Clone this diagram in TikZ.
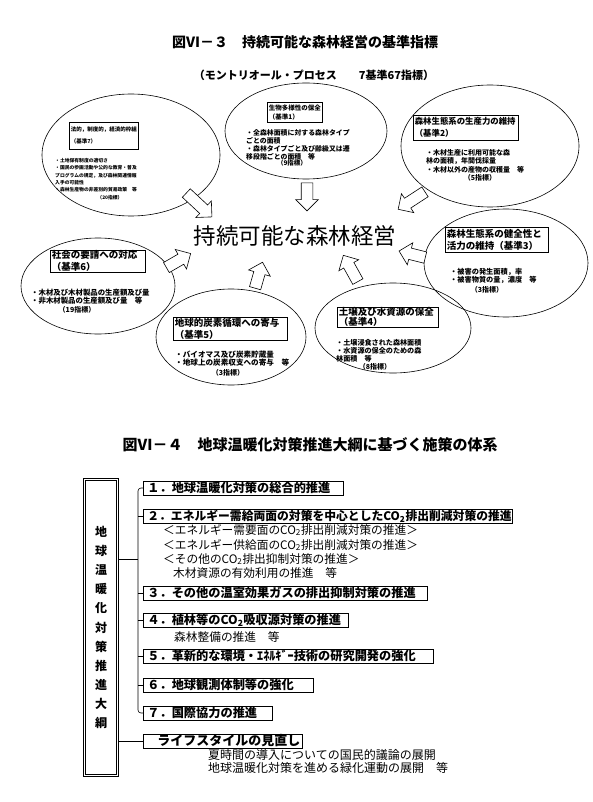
\documentclass[tikz,border=0pt]{standalone}
\usepackage{fontspec}
\setmainfont{Noto Sans CJK JP}
\usetikzlibrary{shapes.geometric,shapes.arrows}
\newcommand\jfs[2]{\fontsize{#1}{#2}\selectfont}

\tikzset{
  crit/.style={ellipse, draw, line width=0.6pt, inner sep=0pt},
  hdr/.style={draw, line width=0.6pt, anchor=north west, align=left, inner xsep=1.5pt, inner ysep=0pt},
  bul/.style={anchor=north west, align=left, inner sep=0pt},
  cnt/.style={inner sep=0pt},
  blockarrow/.style={single arrow, draw, fill=white, line width=0.6pt, inner sep=5.5pt, single arrow head extend=5.5pt, minimum height=#1},
  item/.style={draw, line width=0.7pt, anchor=west, align=left, inner xsep=4pt, inner ysep=0.5pt, minimum height=14pt, font=\bfseries\jfs{12.2}{12.2}},
  sub/.style={anchor=west, inner sep=0pt, font=\jfs{11.7}{11.7}},
}

\begin{document}
\begin{tikzpicture}[x=1pt,y=-1pt]
\useasboundingbox (0,0) rectangle (593,802);

% Titles
\node[font=\bfseries\jfs{14}{14}] (t3) at (305,42) {図Ⅵ－３　持続可能な森林経営の基準指標};
\node[font=\bfseries\jfs{11}{11}] (t3s) at (314,75) {（モントリオール・プロセス　　7基準67指標）};

% Criteria ellipses
\node[crit, minimum width=178pt, minimum height=122pt] (e7) at (131,155) {};
\node[crit, minimum width=162pt, minimum height=96pt] (e1) at (306,131) {};
\node[crit, minimum width=178pt, minimum height=122pt] (e2) at (490,146) {};
\node[crit, minimum width=154pt, minimum height=96pt] (e6) at (98,286) {};
\node[crit, minimum width=164pt, minimum height=108pt] (e3) at (506,263) {};
\node[crit, minimum width=150pt, minimum height=96pt] (e5) at (231,337) {};
\node[crit, minimum width=156pt, minimum height=90pt] (e4) at (393,328) {};

% Headers
\node[hdr, text width=66pt, minimum height=27pt, font=\bfseries\jfs{5.5}{12}] (h7) at (69,122) {法的，制度的，経済的枠組\\（基準7）};
\node[hdr, text width=52pt, minimum height=20pt, font=\bfseries\jfs{6.5}{9.5}] (h1) at (267,102) {生物多様性の保全\\（基準1）};
\node[hdr, text width=102pt, minimum height=25pt, font=\bfseries\jfs{8.4}{12}] (h2) at (413,115) {森林生態系の生産力の維持\\（基準2）};
\node[hdr, text width=92pt, minimum height=22pt, font=\bfseries\jfs{9.5}{12}] (h6) at (50,250) {社会の要請への対応\\（基準6）};
\node[hdr, text width=100pt, minimum height=25pt, font=\bfseries\jfs{9.5}{12}] (h3) at (445,227) {森林生態系の健全性と\\活力の維持（基準3）};
\node[hdr, text width=111pt, minimum height=23pt, font=\bfseries\jfs{9.5}{12}] (h5) at (173,317) {地球的炭素循環への寄与\\（基準5）};
\node[hdr, text width=98pt, minimum height=20pt, font=\bfseries\jfs{9.5}{10}] (h4) at (337,307) {土壌及び水資源の保全\\（基準4）};

% Indicators
\node[bul, font=\bfseries\jfs{4.8}{7.4}] (b7) at (55,158) {・土地保有制度の適切さ\\・国民の参画活動や公的な教育・普及\\プログラムの規定，及び森林関連情報\\入手の可能性\\・森林生産物の非差別的貿易政策　等};
\node[cnt, font=\bfseries\jfs{4.8}{4.8}] (c7) at (110,198) {（20指標）};
\node[bul, font=\bfseries\jfs{6.9}{8}] (b1) at (246,129) {・全森林面積に対する森林タイプ\\ごとの面積\\・森林タイプごと及び齢級又は遷\\移段階ごとの面積　等};
\node[cnt, font=\bfseries\jfs{6.5}{6.5}] (c1) at (292,163) {（9指標）};
\node[bul, font=\bfseries\jfs{7}{8.5}] (b2) at (426,149) {・木材生産に利用可能な森\\林の面積，年間伐採量\\・木材以外の産物の収穫量　等};
\node[cnt, font=\bfseries\jfs{7}{7}] (c2) at (480,178) {（5指標）};
\node[bul, font=\bfseries\jfs{7.4}{8}] (b6) at (31,289) {・木材及び木材製品の生産額及び量\\・非木材製品の生産額及び量　等};
\node[cnt, font=\bfseries\jfs{7}{7}] (c6) at (77,310) {（19指標）};
\node[bul, font=\bfseries\jfs{7.2}{8}] (b3) at (450,268) {・被害の発生面積，率\\・被害物質の量，濃度　等};
\node[cnt, font=\bfseries\jfs{7}{7}] (c3) at (487,290) {（3指標）};
\node[bul, font=\bfseries\jfs{7.6}{8}] (b5) at (175,351) {・バイオマス及び炭素貯蔵量\\・地球上の炭素収支への寄与　等};
\node[cnt, font=\bfseries\jfs{7}{7}] (c5) at (228,373) {（3指標）};
\node[bul, font=\bfseries\jfs{7.1}{8}] (b4) at (336,339) {・土壌浸食された森林面積\\・水資源の保全のための森\\林面積　等};
\node[cnt, font=\bfseries\jfs{7}{7}] (c4) at (375,367) {（8指標）};

% Centre
\node[font=\jfs{22.5}{22.5}] (sfm) at (295,236) {持続可能な森林経営};

% Block arrows towards the centre
\node[blockarrow=35pt, rotate=-43] (a7) at (197,203) {};
\node[blockarrow=28pt, rotate=-90] (a1) at (307,194) {};
\node[blockarrow=32pt, rotate=-147] (a2) at (414,199) {};
\node[blockarrow=28pt, rotate=30] (a6) at (176,262) {};
\node[blockarrow=27pt, rotate=166] (a3) at (415,255) {};
\node[blockarrow=27pt, rotate=74] (a5) at (258,278) {};
\node[blockarrow=30pt, rotate=119] (a4) at (352,271) {};

% Second figure
\node[font=\bfseries\jfs{15}{15}] (t4) at (310,445) {図Ⅵ－４　地球温暖化対策推進大綱に基づく施策の体系};

\node[draw, double, double distance=1.4pt, line width=0.9pt, minimum width=32.8pt, minimum height=295.8pt, align=center, inner sep=0pt, font=\bfseries\jfs{12}{19.1}] (taiko) at (101,627.5) {地\\球\\温\\暖\\化\\対\\策\\推\\進\\大\\綱};

\node[item, text width=192pt] (i1) at (143,488) {１．地球温暖化対策の総合的推進};
\node[item, text width=361pt, font=\bfseries\jfs{11.8}{11.8}] (i2) at (143,516) {２．エネルギー需給両面の対策を中心としたCO\textsubscript{2}排出削減対策の推進};
\node[sub] (s21) at (163,530) {＜エネルギー需要面のCO\textsubscript{2}排出削減対策の推進＞};
\node[sub] (s22) at (163,545) {＜エネルギー供給面のCO\textsubscript{2}排出削減対策の推進＞};
\node[sub] (s23) at (163,559) {＜その他のCO\textsubscript{2}排出抑制対策の推進＞};
\node[sub] (s24) at (173,573) {木材資源の有効利用の推進　等};
\node[item, text width=276pt] (i3) at (143,593) {３．その他の温室効果ガスの排出抑制対策の推進};
\node[item, text width=197pt] (i4) at (143,620) {４．植林等のCO\textsubscript{2}吸収源対策の推進};
\node[sub] (s41) at (174,637) {森林整備の推進　等};
\node[item, text width=282pt] (i5) at (143,656) {５．革新的な環境・ｴﾈﾙｷﾞｰ技術の研究開発の強化};
\node[item, text width=162pt] (i6) at (143,685) {６．地球観測体制等の強化};
\node[item, text width=121pt] (i7) at (143,713) {７．国際協力の推進};
\node[item, text width=151pt, font=\bfseries\jfs{13}{13}] (ls) at (143,741) {\hspace*{10pt}ライフスタイルの見直し};
\node[sub, font=\jfs{12}{12}] (sl1) at (208,755) {夏時間の導入についての国民的議論の展開};
\node[sub, font=\jfs{12}{12}] (sl2) at (208,768) {地球温暖化対策を進める緑化運動の展開　等};

% Connectors
\coordinate (trunk) at (138,559);
\draw[line width=0.6pt, rounded corners=3pt] (i1.west) -- ++(-5,0) |- (i7.west);
\foreach \n in {2,...,6}
  \draw[line width=0.6pt] (i\n.west) -- ++(-5,0);
\draw[line width=0.6pt] (taiko.east |- trunk) -- (trunk);
\draw[line width=0.6pt] (taiko.east |- ls.west) -- (ls.west);

\end{tikzpicture}
\end{document}
